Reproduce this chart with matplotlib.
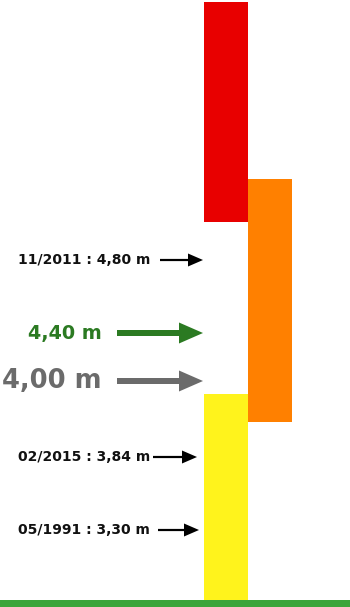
import matplotlib.pyplot as plt

# Vigilance bars (drawing units: 1 unit = 1 px, origin bottom-left)
bar_colors = ['#fff31c', '#ff8000', '#e80000']
bar_left = [204, 248, 204]
bar_bottom = [7, 185, 385]
bar_top = [213, 428, 605]
bar_width = 44

# Historical levels (label, y position)
event_labels = ['11/2011 : 4,80 m', '02/2015 : 3,84 m', '05/1991 : 3,30 m']
event_y = [347, 150, 77]
event_tail = [160, 153, 158]
event_tip = [203, 197, 199]

# Threshold markers
thr_labels = ['4,40 m', '4,00 m']
thr_y = [274, 226]
thr_colors = ['#2b7a22', '#6b6b6b']
thr_sizes = [13.8, 18.5]

fig = plt.figure(figsize=(3.5, 6.07), dpi=100)
ax = fig.add_axes([0, 0, 1, 1])
ax.set_xlim(0, 350)
ax.set_ylim(0, 607)
ax.axis('off')

# bars
for c, l, b, t in zip(bar_colors, bar_left, bar_bottom, bar_top):
	ax.bar(l, t - b, bottom=b, width=bar_width, align='edge', color=c, linewidth=0)

# ground line
ax.axhspan(0, 7, color='#3aa53a', linewidth=0)

# historical events
for lab, y, x0, x1 in zip(event_labels, event_y, event_tail, event_tip):
	ax.text(150, y, lab, ha='right', va='center', fontsize=10, fontweight='bold', color='#111111')
	ax.arrow(x0, y, x1 - x0, 0, width=2.2, head_width=13, head_length=15,
		length_includes_head=True, color='black', linewidth=0)

# thresholds
for lab, y, c, s in zip(thr_labels, thr_y, thr_colors, thr_sizes):
	ax.text(102, y, lab, ha='right', va='center', fontsize=s, fontweight='bold', color=c)
	ax.arrow(117, y, 86, 0, width=6, head_width=21, head_length=24,
		length_includes_head=True, color=c, linewidth=0)

fig.savefig('out.png', dpi=100)
